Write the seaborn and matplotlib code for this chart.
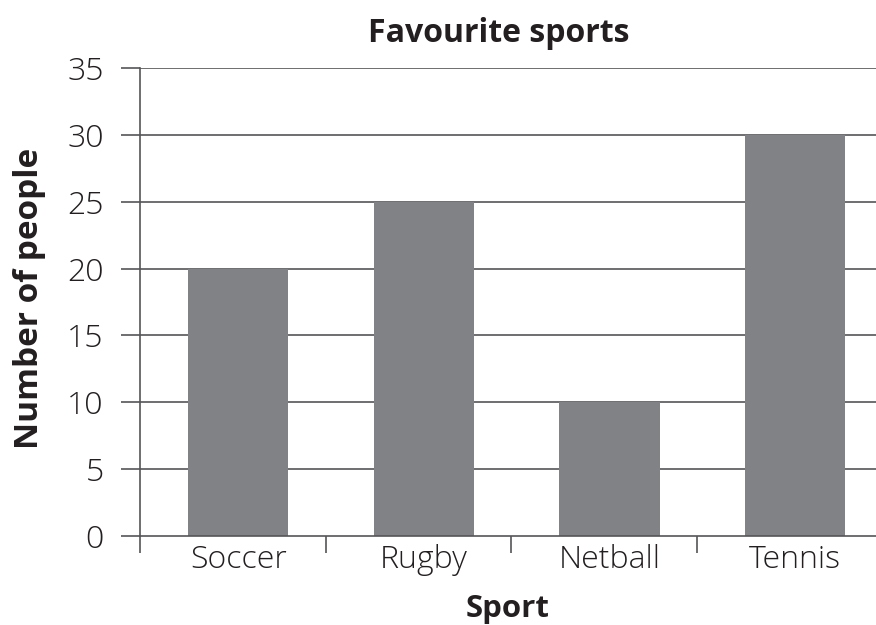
import matplotlib
matplotlib.use("Agg")
import matplotlib.pyplot as plt
from matplotlib import font_manager
import seaborn as sns
import pandas as pd

sports = ["Soccer", "Rugby", "Netball", "Tennis"]
people = [20, 25, 10, 30]
yticks = [0, 5, 10, 15, 20, 25, 30, 35]

sns.set_style("white")
plt.rcParams["font.family"] = ["Open Sans", "DejaVu Sans"]

# try to find a light weight of Open Sans for tick labels
light_fp = None
for f in font_manager.findSystemFonts():
    name = f.replace("_", "").replace("-", "").lower()
    if "opensans" in name and "light" in name and "italic" not in name and "semi" not in name:
        light_fp = font_manager.FontProperties(fname=f, size=23)
        break
if light_fp is None:
    light_fp = font_manager.FontProperties(family="Open Sans", weight="light", size=23)

W, H = 876, 625
fig = plt.figure(figsize=(W / 100, H / 100), dpi=100)
ax = fig.add_axes([140 / W, (H - 536) / H, 744 / W, 468 / H])

df = pd.DataFrame({"Sport": sports, "People": people})
line_c = "#555557"
text_c = "#231f20"

for y in yticks[1:]:
    ax.axhline(y, color=line_c, lw=1.2, zorder=0)

sns.barplot(data=df, x="Sport", y="People", color="#808285", saturation=1,
            width=0.54, linewidth=0, edgecolor="none", ax=ax, zorder=2)

ax.set_xlim(-0.53, 3.48)
ax.set_ylim(0, 35)
ax.set_yticks(yticks)
ax.set_yticklabels([str(v) for v in yticks], fontproperties=light_fp, color=text_c)
ax.tick_params(axis="y", length=14, width=1.2, color=line_c, direction="out", pad=12, left=True)
ax.set_xticks(range(len(sports)))
ax.set_xticklabels(sports, fontproperties=light_fp, color=text_c)
ax.tick_params(axis="x", which="major", length=0, pad=6)
ax.set_xticks([-0.53, 0.47, 1.47, 2.47], minor=True)
ax.tick_params(axis="x", which="minor", length=12, width=1.2, color=line_c, direction="out", bottom=True)

for s in ["top", "right"]:
    ax.spines[s].set_visible(False)
for s in ["left", "bottom"]:
    ax.spines[s].set_color(line_c)
    ax.spines[s].set_linewidth(1.2)
    ax.spines[s].set_zorder(3)
ax.set_xlabel("")
ax.set_ylabel("")

fig.text(499 / W, 1 - 42 / H, "Favourite sports", ha="center", va="baseline",
         fontsize=23, fontweight="bold", color=text_c)
fig.text(508 / W, 1 - 617 / H, "Sport", ha="center", va="baseline",
         fontsize=22.5, fontweight="bold", color=text_c)
fig.text(30 / W, 1 - 298 / H, "Number of people", ha="center", va="center", rotation=90,
         fontsize=24, fontweight="bold", color=text_c)

fig.savefig("out.png", dpi=100, facecolor="white")
